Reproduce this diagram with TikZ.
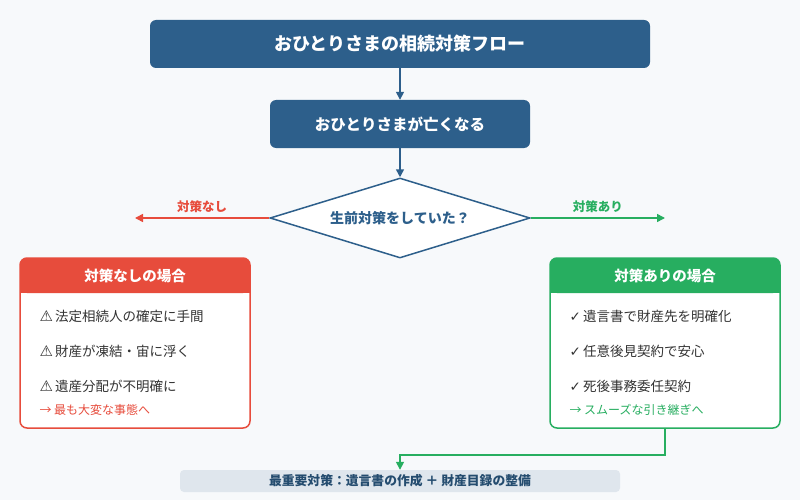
\documentclass[tikz,border=0pt]{standalone}
\usepackage{fontspec}
\setmainfont{Noto Sans CJK JP}
\newfontfamily\sym{DejaVu Sans}
\newcommand\warnsym{{\sym\fontsize{15}{16}\selectfont ⚠}}
\usetikzlibrary{shapes.geometric,arrows.meta}
\definecolor{bg}{HTML}{F7F9FB}
\definecolor{navy}{HTML}{2D5F8B}
\definecolor{myred}{HTML}{E74C3C}
\definecolor{mygreen}{HTML}{27AE60}
\definecolor{txt}{HTML}{333333}
\definecolor{note}{HTML}{DFE6ED}
\begin{document}
\begin{tikzpicture}[x=1pt,y=-1pt,
  hdr/.style={fill=navy,rounded corners=6pt,text=white,font=\bfseries\fontsize{15.5}{17}\selectfont},
  arr/.style={-{Triangle[length=8pt,width=8pt]},line width=1.5pt},
  item/.style={anchor=west,text=txt,font=\fontsize{13.5}{15}\selectfont},
  lbl/.style={font=\bfseries\fontsize{12.5}{14}\selectfont}]
\useasboundingbox (0,0) rectangle (800,500);
\fill[bg] (0,0) rectangle (800,500);
\node[hdr,minimum width=500pt,minimum height=48pt,font=\bfseries\fontsize{18}{20}\selectfont] (title) at (400,44) {おひとりさまの相続対策フロー};
\node[hdr,minimum width=260pt,minimum height=48pt] (dead) at (400,124) {おひとりさまが亡くなる};
\node[diamond,draw=navy,line width=1.5pt,fill=white,minimum width=260pt,minimum height=80pt,aspect=3.25,inner sep=0pt,text=navy,font=\bfseries\fontsize{14}{16}\selectfont] (q) at (400,218) {\raisebox{2pt}{生前対策をしていた？}};
\draw[arr,navy] (title) -- (dead);
\draw[arr,navy] (dead) -- (q.north);
\coordinate (le) at (135,218);
\coordinate (re) at (665,218);
\draw[arr,myred] (q.west) -- node[lbl,text=myred,above=1pt]{対策なし} (le);
\draw[arr,mygreen] (q.east) -- node[lbl,text=mygreen,above=1pt]{対策あり} (re);
% left box
\draw[myred,line width=1.5pt,fill=white,rounded corners=7pt] (20,258) rectangle (250,428);
\fill[myred,rounded corners=7pt] (20,258) rectangle (250,293);
\fill[myred] (20,280) rectangle (250,293);
\node[hdr,fill=none,font=\bfseries\fontsize{14.5}{16}\selectfont] (lh) at (135,276) {対策なしの場合};
\node[item] (l1) at (36,316) {\warnsym\,法定相続人の確定に手間};
\node[item] (l2) at (36,351) {\warnsym\,財産が凍結・宙に浮く};
\node[item] (l3) at (36,386) {\warnsym\,遺産分配が不明確に};
\node[item,text=myred,font=\fontsize{12}{14}\selectfont] (l4) at (36,410) {→ 最も大変な事態へ};
% right box
\draw[mygreen,line width=1.5pt,fill=white,rounded corners=7pt] (550,258) rectangle (780,428);
\fill[mygreen,rounded corners=7pt] (550,258) rectangle (780,293);
\fill[mygreen] (550,280) rectangle (780,293);
\node[hdr,fill=none,font=\bfseries\fontsize{14.5}{16}\selectfont] (rh) at (665,276) {対策ありの場合};
\node[item] (r1) at (566,316) {{\sym ✓}\,遺言書で財産先を明確化};
\node[item] (r2) at (566,351) {{\sym ✓}\,任意後見契約で安心};
\node[item] (r3) at (566,386) {{\sym ✓}\,死後事務委任契約};
\node[item,text=mygreen,font=\fontsize{12}{14}\selectfont] (r4) at (566,410) {→ スムーズな引き継ぎへ};
\coordinate (rb) at (665,428);
% bottom
\node[fill=note,rounded corners=4pt,minimum width=440pt,minimum height=22pt,text=navy!80!black,font=\bfseries\fontsize{12.8}{14}\selectfont] (sum) at (400,481) {最重要対策：遺言書の作成 ＋ 財産目録の整備};
\draw[arr,mygreen] (rb) -- (665,455) -- (400,455) -- (sum.north);
\end{tikzpicture}
\end{document}
